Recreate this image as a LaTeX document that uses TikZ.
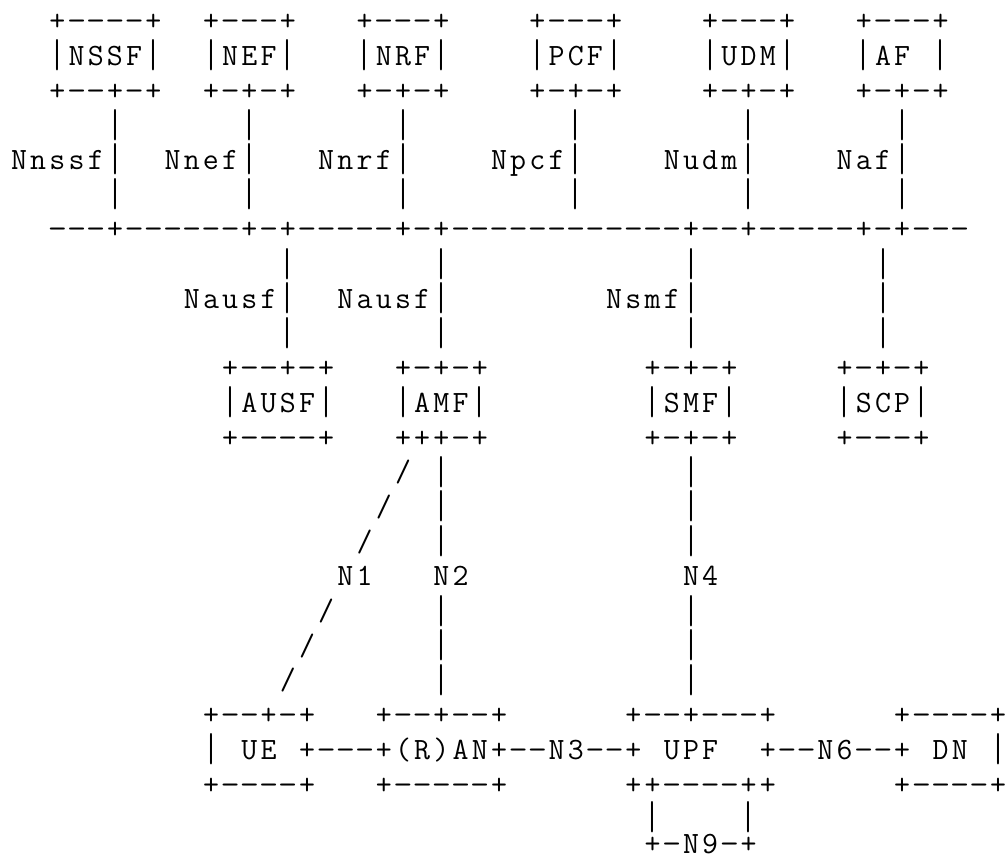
\documentclass[tikz,border=0pt]{standalone}
\usepackage{fontspec}
\usepackage{graphicx}
\ExplSyntaxOn
\dim_new:N \l_asc_cw_dim
\dim_set:Nn \l_asc_cw_dim {19.2pt}
\NewDocumentCommand \ascrow { m }
 {
  \tl_map_inline:nn {#1}
   {
    \str_case:nnF {##1}
     {
      {.} { \hbox_to_wd:nn { \l_asc_cw_dim } { } }
      {|} { \hbox_to_wd:nn { \l_asc_cw_dim } { \hss \raisebox{-2.5pt}{\scalebox{1}[1.3]{|}} \hss } }
      {-} { \hbox_to_wd:nn { \l_asc_cw_dim } { \hss \scalebox{1.2}[1]{-} \hss } }
     }
     { \hbox_to_wd:nn { \l_asc_cw_dim } { \hss ##1 \hss } }
   }
 }
\ExplSyntaxOff
\newcommand\asciifont{\ttfamily\addfontfeature{FakeStretch=1.15}\fontsize{31}{34.7}\selectfont}
\tikzset{ascii/.style={anchor=base west, inner sep=0pt, outer sep=0pt, font=\asciifont, text=black}}
\begin{document}
\begin{tikzpicture}[x=1pt,y=1pt]
\fill[white] (0,0) rectangle (1006,861);
\useasboundingbox (0,0) rectangle (1006,861);
\node[ascii] (r1)  at (9.4,830.3) {\ascrow{..+----+..+---+...+---+....+---+....+---+...+---+}};
\node[ascii] (r2)  at (9.4,795.6) {\ascrow{..|NSSF|..|NEF|...|NRF|....|PCF|....|UDM|...|AF.|}};
\node[ascii] (r3)  at (9.4,760.9) {\ascrow{..+--+-+..+-+-+...+-+-+....+-+-+....+-+-+...+-+-+}};
\node[ascii] (r4)  at (9.4,726.2) {\ascrow{.....|......|.......|........|........|.......|}};
\node[ascii] (r5)  at (9.4,691.5) {\ascrow{Nnssf|..Nnef|...Nnrf|....Npcf|....Nudm|....Naf|}};
\node[ascii] (r6)  at (9.4,656.8) {\ascrow{.....|......|.......|........|........|.......|}};
\node[ascii] (r7)  at (9.4,622.1) {\ascrow{..---+------+-+-----+-+------------+--+-----+-+---}};
\node[ascii] (r8)  at (9.4,587.4) {\ascrow{..............|.......|............|.........|}};
\node[ascii] (r9)  at (9.4,552.7) {\ascrow{.........Nausf|..Nausf|........Nsmf|.........|}};
\node[ascii] (r10) at (9.4,518.0) {\ascrow{..............|.......|............|.........|}};
\node[ascii] (r11) at (9.4,483.3) {\ascrow{...........+--+-+...+-+-+........+-+-+.....+-+-+}};
\node[ascii] (r12) at (9.4,448.6) {\ascrow{...........|AUSF|...|AMF|........|SMF|.....|SCP|}};
\node[ascii] (r13) at (9.4,413.9) {\ascrow{...........+----+...+++-+........+-+-+.....+---+}};
\node[ascii] (r14) at (9.4,379.2) {\ascrow{..................../.|............|}};
\node[ascii] (r15) at (9.4,344.5) {\ascrow{.................../..|............|}};
\node[ascii] (r16) at (9.4,309.8) {\ascrow{................../...|............|}};
\node[ascii] (r17) at (9.4,275.1) {\ascrow{.................N1...N2...........N4}};
\node[ascii] (r18) at (9.4,240.4) {\ascrow{................/.....|............|}};
\node[ascii] (r19) at (9.4,205.7) {\ascrow{.............../......|............|}};
\node[ascii] (r20) at (9.4,171.0) {\ascrow{............../.......|............|}};
\node[ascii] (r21) at (9.4,136.3) {\ascrow{..........+--+-+...+--+--+......+--+---+......+----+}};
\node[ascii] (r22) at (9.4,101.6) {\ascrow{..........|.UE.+---+(R)AN+--N3--+.UPF..+--N6--+.DN.|}};
\node[ascii] (r23) at (9.4,66.9)  {\ascrow{..........+----+...+-----+......++----++......+----+}};
\node[ascii] (r24) at (9.4,33.5)  {\ascrow{.................................|....|}};
\node[ascii] (r25) at (9.4,7.0)   {\ascrow{.................................+-N9-+}};
\end{tikzpicture}
\end{document}
